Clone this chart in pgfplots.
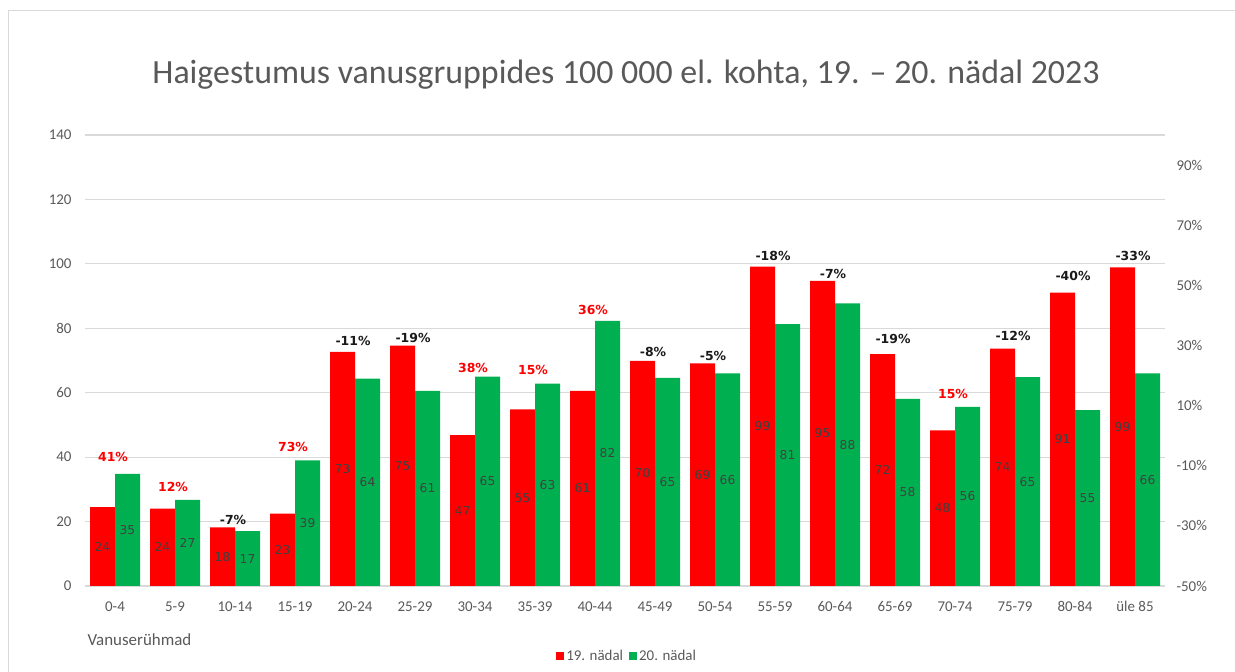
\documentclass[border=0pt]{standalone}
\usepackage{fontspec}
\setmainfont{Carlito}
\newfontfamily\dvs{DejaVu Sans}
\usepackage{pgfplots}
\usepackage{pgfplotstable}
\pgfplotsset{compat=1.18}
\definecolor{cred}{HTML}{FF0000}
\definecolor{cgreen}{HTML}{00B050}
\definecolor{txt}{HTML}{595959}
\definecolor{gridc}{HTML}{D9D9D9}
\definecolor{inlab}{HTML}{404040}

\pgfplotstableread{
x a alab b blab
0 24.5 24 34.8 35
1 24.0 24 26.7 27
2 18.2 18 17.0 17
3 22.5 23 39.0 39
4 72.7 73 64.4 64
5 74.6 75 60.6 61
6 46.8 47 65.0 65
7 54.8 55 62.8 63
8 60.6 61 82.3 82
9 69.9 70 64.6 65
10 69.1 69 66.0 66
11 99.1 99 81.3 81
12 94.7 95 87.7 88
13 72.0 72 58.1 58
14 48.3 48 55.6 56
15 73.7 74 64.8 65
16 91.1 91 54.6 55
17 98.9 99 66.0 66
}\data

\pgfplotstableread{
x y lab
0 40.0 41
1 30.7 12
3 43.1 73
6 67.7 38
7 67.0 15
8 85.6 36
14 59.6 15
}\pctpos

\pgfplotstableread{
x y lab
2 20.5 -7
4 76.0 -11
5 77.0 -19
9 72.6 -8
10 71.4 -5
11 102.4 -18
12 96.8 -7
13 76.6 -19
15 77.6 -12
16 96.2 -40
17 102.4 -33
}\pctneg

\pgfplotsset{
  base/.style={
    at={(85bp,86bp)}, anchor=south west, scale only axis,
    width=1080bp, height=451bp,
    xmin=-0.5, xmax=17.5,
    axis line style={draw=none}, major tick length=0pt,
    tick style={draw=none}, clip=false,
    /pgf/number format/assume math mode=true,
  },
  inbar/.style={
    nodes near coords, point meta=explicit symbolic,
    visualization depends on=y \as \rawy,
    every node near coord/.append style={shift={(axis direction cs:0,-\rawy/2)},
      xshift=#1, anchor=center, color=inlab, font=\dvs\fontsize{12.3}{14}\selectfont},
  },
}

\begin{document}
\begin{tikzpicture}[x=1bp,y=1bp]
\useasboundingbox (0,0) rectangle (1235,672);
\draw[gridc, line width=1bp] (8.5,0) -- (8.5,661.5) -- (1235,661.5);
\node[font=\fontsize{34}{38}\selectfont, color=txt] at (626,597) {Haigestumus vanusgruppides 100 000 el. kohta, 19. – 20. nädal 2023};
\node[font=\fontsize{17}{19}\selectfont, color=txt, anchor=west] at (84,32) {Vanuserühmad};

\begin{axis}[base,
  ymin=0, ymax=140, ytick={0,20,...,140},
  xtick={0,...,17},
  xticklabels={0-4,5-9,10-14,15-19,20-24,25-29,30-34,35-39,40-44,45-49,50-54,55-59,60-64,65-69,70-74,75-79,80-84,üle 85},
  ymajorgrids, grid style={gridc, line width=1.2bp},
  tick label style={font=\fontsize{15}{17}\selectfont, color=txt},
  yticklabel style={xshift=-10bp},
  xticklabel style={yshift=-12bp},
  legend style={at={(0.502,-0.155)}, anchor=center, draw=none, fill=none,
    legend columns=2, font=\fontsize{15}{17}\selectfont, text=txt,
    /tikz/every even column/.append style={column sep=4bp},
    inner sep=0pt},
  legend image code/.code={\fill[#1] (0bp,-4bp) rectangle (8bp,4bp);},
]
\addplot[ybar, bar width=25bp, bar shift=-12.5bp, fill=cred, draw=none, inbar=-12.5bp]
  table[x=x, y=a, meta=alab] {\data};
\addplot[ybar, bar width=25bp, bar shift=12.5bp, fill=cgreen, draw=none, inbar=12.5bp]
  table[x=x, y=b, meta=blab] {\data};
\legend{19. nädal, 20. nädal}
\addplot[only marks, mark=none, nodes near coords={\pgfplotspointmeta\%},
  point meta=explicit symbolic,
  every node near coord/.append style={anchor=center, color=cred, xshift=-2bp,
    font=\dvs\bfseries\fontsize{12.5}{14}\selectfont}]
  table[x=x, y=y, meta=lab] {\pctpos};
\addplot[only marks, mark=none, nodes near coords={\pgfplotspointmeta\%},
  point meta=explicit symbolic,
  every node near coord/.append style={anchor=center, color=black!90, xshift=-2bp,
    font=\dvs\bfseries\fontsize{12.5}{14}\selectfont}]
  table[x=x, y=y, meta=lab] {\pctneg};
\end{axis}

\begin{axis}[base,
  ymin=-50, ymax=100, ytick={-50,-30,...,90},
  axis y line*=right, hide x axis,
  yticklabel={\pgfmathprintnumber{\tick}\%},
  tick label style={font=\fontsize{15}{17}\selectfont, color=txt},
  yticklabel style={xshift=8bp},
]
\end{axis}
\end{tikzpicture}
\end{document}
